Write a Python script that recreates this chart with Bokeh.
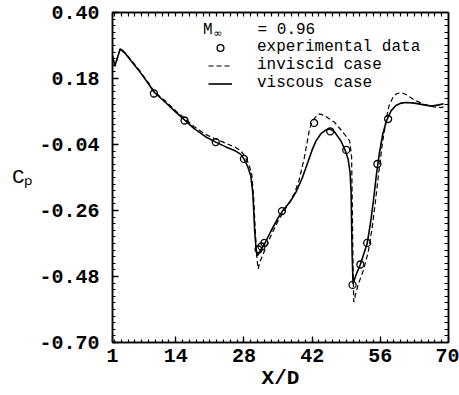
from bokeh.plotting import figure
from bokeh.models import (FixedTicker, LinearAxis, Legend, LegendItem, Label, Range1d)
from bokeh.embed import file_html
from bokeh.resources import INLINE

# ---------------- data ----------------
x_visc = [1.0, 1.5, 2.6, 3.7, 5.0, 6.4, 8.5, 9.5, 11.9, 14.0, 15.8, 17.7, 20.1, 22.2,
          24.3, 26.3, 27.3, 28.0, 28.8, 29.4, 29.8, 30.0, 30.2, 30.5, 30.8, 31.3, 32.2,
          33.5, 35.0, 35.9, 37.6, 38.7, 40.0, 41.1, 42.0, 42.8, 43.8, 44.8, 45.6, 46.5,
          47.9, 48.8, 49.4, 49.8, 50.0, 50.1, 50.2, 50.4, 50.6, 51.0, 51.9, 53.3, 54.0,
          54.6, 55.2, 55.8, 56.5, 57.3, 58.2, 59.2, 60.3, 61.3, 63.0, 65.0, 66.5, 68.0, 69.0]
cp_visc = [0.255, 0.223, 0.279, 0.262, 0.235, 0.207, 0.160, 0.135, 0.100, 0.068, 0.042,
           0.014, -0.014, -0.032, -0.048, -0.062, -0.072, -0.088, -0.115, -0.145, -0.200,
           -0.260, -0.330, -0.390, -0.410, -0.395, -0.372, -0.330, -0.285, -0.262, -0.228,
           -0.198, -0.150, -0.100, -0.058, -0.028, -0.004, 0.008, 0.012, 0.004, -0.028,
           -0.060, -0.090, -0.135, -0.200, -0.300, -0.400, -0.505, -0.495, -0.475, -0.440,
           -0.370, -0.300, -0.225, -0.140, -0.070, -0.005, 0.040, 0.072, 0.090, 0.098,
           0.100, 0.098, 0.092, 0.088, 0.092, 0.096]

x_invs = [1.0, 1.5, 2.6, 3.7, 5.0, 6.4, 8.5, 9.5, 11.9, 14.0, 15.8, 17.7, 20.1, 22.2,
          24.3, 26.3, 27.3, 28.2, 29.0, 29.6, 30.0, 30.3, 30.6, 30.9, 31.3, 32.2, 33.5,
          35.0, 36.5, 38.3, 39.3, 40.4, 41.4, 41.8, 42.6, 43.5, 44.5, 45.5, 46.6, 47.6,
          48.6, 49.7, 50.1, 50.25, 50.4, 50.55, 50.9, 51.5, 52.5, 53.5, 54.3, 55.0, 55.7,
          56.4, 57.1, 57.8, 58.6, 59.4, 60.3, 61.5, 63.0, 65.0, 67.0, 68.5, 69.0]
cp_invs = [0.255, 0.220, 0.281, 0.264, 0.238, 0.210, 0.163, 0.138, 0.104, 0.072, 0.047,
           0.020, -0.006, -0.022, -0.036, -0.050, -0.060, -0.080, -0.105, -0.140, -0.220,
           -0.320, -0.410, -0.455, -0.430, -0.395, -0.345, -0.295, -0.255, -0.205, -0.160,
           -0.084, 0.006, 0.028, 0.050, 0.062, 0.057, 0.046, 0.034, 0.015, -0.005, -0.028,
           -0.080, -0.250, -0.450, -0.565, -0.540, -0.505, -0.460, -0.400, -0.320, -0.230,
           -0.130, -0.040, 0.035, 0.090, 0.118, 0.130, 0.133, 0.125, 0.108, 0.094, 0.085,
           0.083, 0.086]

x_exp = [9.5, 15.8, 22.2, 28.0, 31.0, 31.6, 32.2, 35.8, 42.4, 45.7, 49.0, 50.3, 51.9,
         53.3, 55.4, 57.6]
cp_exp = [0.130, 0.040, -0.032, -0.088, -0.390, -0.380, -0.368, -0.262, 0.032, 0.004,
          -0.058, -0.508, -0.440, -0.368, -0.105, 0.045]

x_ticks = [1, 14, 28, 42, 56, 70]
x_tick_labels = ["1", "14", "28", "42", "56", "70"]
y_ticks = [0.40, 0.18, -0.04, -0.26, -0.48, -0.70]
y_tick_labels = ["0.40", "0.18", "-0.04", "-0.26", "-0.48", "-0.70"]
x_minor = [round(1.4 * k, 2) for k in range(1, 50)]
y_minor = [round(-0.70 + 0.022 * k, 3) for k in range(0, 51)]

mach_label = "= 0.96"
legend_labels = ["experimental data", "inviscid case", "viscous case"]
x_title = "X/D"
y_title = "C\u209a"

FONT = "Liberation Mono"

p = figure(width=459, height=395, output_backend="svg", toolbar_location=None,
           x_range=Range1d(1, 70), y_range=Range1d(-0.70, 0.40),
           min_border_left=112, min_border_right=11, min_border_top=12,
           min_border_bottom=53, x_axis_location=None, y_axis_location=None)
p.grid.visible = False
p.outline_line_color = "black"
p.outline_line_width = 1.5
p.background_fill_color = "white"
p.border_fill_color = "white"


def style_axis(ax):
    ax.axis_line_color = "black"
    ax.axis_line_width = 1.5
    ax.major_tick_in = 6
    ax.major_tick_out = 0
    ax.minor_tick_in = 3
    ax.minor_tick_out = 0
    ax.major_tick_line_width = 1.3
    ax.minor_tick_line_width = 1.2
    ax.major_label_text_font = FONT
    ax.major_label_text_font_style = "bold"
    ax.major_label_text_font_size = "20px"
    ax.major_label_text_color = "black"
    return ax


xb = style_axis(LinearAxis(ticker=FixedTicker(ticks=x_ticks, minor_ticks=x_minor)))
xb.major_label_overrides = {t: l for t, l in zip(x_ticks, x_tick_labels)}
xb.major_label_standoff = 6
xb.axis_label = x_title
xb.axis_label_text_font = FONT
xb.axis_label_text_font_style = "bold"
xb.axis_label_text_font_size = "21px"
xb.axis_label_text_color = "black"
xb.axis_label_standoff = 2
p.add_layout(xb, "below")

yl = style_axis(LinearAxis(ticker=FixedTicker(ticks=y_ticks, minor_ticks=y_minor)))
yl.major_label_overrides = {t: l for t, l in zip(y_ticks, y_tick_labels)}
yl.major_label_standoff = 13
yl.axis_label = y_title
yl.axis_label_orientation = "horizontal"
yl.axis_label_text_font = FONT
yl.axis_label_text_font_style = "normal"
yl.axis_label_text_font_size = "21px"
yl.axis_label_text_color = "black"
yl.axis_label_standoff = 4
p.add_layout(yl, "left")

# top and right frame ticks (no labels)
xt = style_axis(LinearAxis(ticker=FixedTicker(ticks=[], minor_ticks=x_minor + x_ticks)))
xt.minor_tick_in = 4
xt.major_label_standoff = 0
p.add_layout(xt, "above")
yr = style_axis(LinearAxis(ticker=FixedTicker(ticks=[], minor_ticks=y_minor)))
yr.minor_tick_in = 4
yr.major_label_standoff = 0
p.add_layout(yr, "right")

r_inv = p.line(x_invs, cp_invs, line_color="black", line_width=1.2, line_dash="5 3")
r_vis = p.line(x_visc, cp_visc, line_color="black", line_width=1.6)
r_exp = p.scatter(x_exp, cp_exp, marker="circle", size=7, line_color="black",
                  line_width=1.3, fill_color=None)

legend = Legend(items=[LegendItem(label=legend_labels[0], renderers=[r_exp]),
                       LegendItem(label=legend_labels[1], renderers=[r_inv]),
                       LegendItem(label=legend_labels[2], renderers=[r_vis])],
                location=(96, 250))
legend.label_text_font = FONT
legend.label_text_font_size = "16px"
legend.label_text_color = "black"
legend.label_height = 17
legend.glyph_height = 17
legend.glyph_width = 24
legend.label_standoff = 25
legend.spacing = 0
legend.padding = 0
legend.margin = 0
legend.border_line_color = None
legend.background_fill_alpha = 0
p.add_layout(legend)

# title row of legend: M with subscript infinity
p.add_layout(Label(x=19.6, y=0.342, text="M", text_font=FONT, text_font_size="16px",
                   text_baseline="middle", text_align="left", text_color="black"))
p.add_layout(Label(x=21.7, y=0.330, text="\u221e", text_font="DejaVu Sans", text_font_size="11px",
                   text_baseline="middle", text_align="left", text_color="black"))
p.add_layout(Label(x=30.8, y=0.342, text=mach_label, text_font=FONT, text_font_size="16px",
                   text_baseline="middle", text_align="left", text_color="black"))

open("out.html", "w").write(file_html(p, INLINE))
